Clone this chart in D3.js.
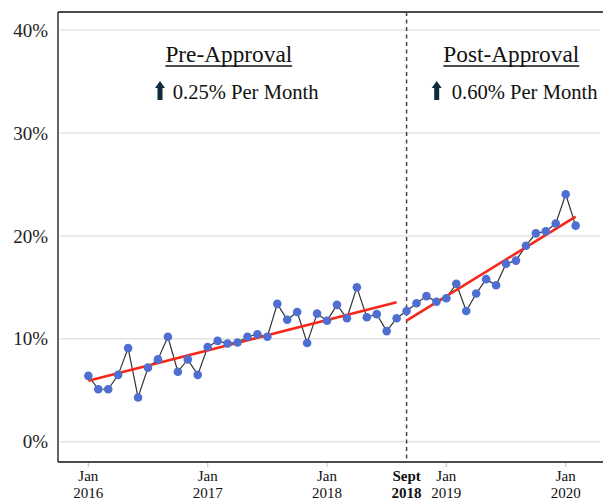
<!DOCTYPE html>
<html><head><meta charset="utf-8">
<script src="https://cdn.jsdelivr.net/npm/d3@7"></script>
<style>body{margin:0;background:#fff}svg{display:block}</style>
</head><body>
<script>
// Data: monthly share, Jan 2016 .. Feb 2020 (month index 0..49)
const values = [6.4,5.1,5.1,6.5,9.1,4.3,7.2,8.0,10.2,6.8,8.0,6.5,
  9.2,9.8,9.55,9.65,10.2,10.45,10.2,13.4,11.85,12.6,9.6,12.45,
  11.75,13.3,12.0,15.0,12.1,12.4,10.75,12.0,12.7,13.45,14.15,13.6,
  13.95,15.35,12.7,14.4,15.8,15.2,17.3,17.6,19.05,20.25,20.45,21.2,
  24.05,21.0];
const startYear = 2016;
const yTicks = [0,10,20,30,40];
const xTickMonths = [0,12,24,32,36,48];
const xTickTop = ["Jan","Jan","Jan","Sept","Jan","Jan"];
const xTickBottom = ["2016","2017","2018","2018","2019","2020"];
const xTickBold = [false,false,false,true,false,false];
const approvalMonth = 32;
// Trend segments [startMonth, startValue, endMonth, endValue]
const trendPre = [0,5.93,31,13.55];
const trendPost = [32,11.76,49,21.87];
const periodTitles = ["Pre-Approval","Post-Approval"];
const periodRates = ["0.25% Per Month","0.60% Per Month"];

const W=603,H=500;
const L=58,T=12,R=603,B=462;
const svg=d3.select("body").append("svg").attr("width",W).attr("height",H);
const x=d3.scaleLinear().domain([-3.05,51.75]).range([L,R]);
const y=d3.scaleLinear().domain([-1.97,41.76]).range([B,T]);
const font="'Liberation Serif','Times New Roman',serif";

// gridlines
svg.append("g").selectAll("line").data(yTicks).join("line")
  .attr("x1",L+2).attr("x2",600).attr("y1",d=>y(d)).attr("y2",d=>y(d))
  .attr("stroke","#e3e3e3").attr("stroke-width",1.5);
// y labels
svg.append("g").selectAll("text").data(yTicks).join("text")
  .attr("x",48).attr("y",d=>y(d)).attr("dy","0.35em").attr("text-anchor","end")
  .attr("font-family",font).attr("font-size",19).attr("fill","#222")
  .text(d=>d+"%");

// frame
svg.append("line").attr("x1",L).attr("x2",R).attr("y1",T).attr("y2",T).attr("stroke","#111").attr("stroke-width",1.3);
svg.append("line").attr("x1",L).attr("x2",L).attr("y1",T).attr("y2",B).attr("stroke","#111").attr("stroke-width",1.3);
svg.append("line").attr("x1",L).attr("x2",R).attr("y1",B).attr("y2",B).attr("stroke","#111").attr("stroke-width",1.3);

// x ticks
const xt=svg.append("g");
xTickMonths.forEach((m,i)=>{
  if(m!==approvalMonth) xt.append("line").attr("x1",x(m)).attr("x2",x(m)).attr("y1",B+1).attr("y2",B+5).attr("stroke","#c8c8c8").attr("stroke-width",1.2);
  const t=xt.append("text").attr("x",x(m)).attr("text-anchor","middle")
    .attr("font-family",font).attr("font-size",15).attr("fill","#111")
    .attr("font-weight",xTickBold[i]?"bold":"normal");
  t.append("tspan").attr("x",x(m)).attr("y",481).text(xTickTop[i]);
  t.append("tspan").attr("x",x(m)).attr("y",498).text(xTickBottom[i]);
});

// approval line
svg.append("line").attr("x1",x(approvalMonth)).attr("x2",x(approvalMonth)).attr("y1",T).attr("y2",B)
  .attr("stroke","#444").attr("stroke-width",1.5).attr("stroke-dasharray","4,3.5");

// data line
const pts=values.map((v,i)=>[i,v]);
svg.append("path").datum(pts).attr("fill","none").attr("stroke","#333").attr("stroke-width",1.2)
  .attr("d",d3.line().x(d=>x(d[0])).y(d=>y(d[1])));
// trends
[trendPre,trendPost].forEach(t=>{
  svg.append("line").attr("x1",x(t[0])).attr("y1",y(t[1])).attr("x2",x(t[2])).attr("y2",y(t[3]))
    .attr("stroke","#f5291b").attr("stroke-width",2.6);
});
// points
svg.append("g").selectAll("circle").data(pts).join("circle")
  .attr("cx",d=>x(d[0])).attr("cy",d=>y(d[1])).attr("r",4.3).attr("fill","#4e6fd1");

// annotations
const titleX=[228.8,511.3];
const rateX=[172.7,451.7];
const arrowX=[160,436.7];
periodTitles.forEach((s,i)=>{
  const t=svg.append("text").attr("x",titleX[i]).attr("y",62).attr("text-anchor","middle")
    .attr("font-family",font).attr("font-size",23.3).attr("fill","#111").text(s);
  const bb=t.node().getBBox();
  svg.append("line").attr("x1",bb.x).attr("x2",bb.x+bb.width).attr("y1",66).attr("y2",66)
    .attr("stroke","#111").attr("stroke-width",1.6);
  svg.append("text").attr("x",rateX[i]).attr("y",98.5)
    .attr("font-family",font).attr("font-size",20.6).attr("fill","#111").text(periodRates[i]);
  const ax=arrowX[i];
  svg.append("path").attr("fill","#0e2c3c")
    .attr("d",`M${ax},81 L${ax+5},88 L${ax+2.5},88 L${ax+2.5},100 L${ax-2.5},100 L${ax-2.5},88 L${ax-5},88 Z`);
});
</script>
</body></html>
